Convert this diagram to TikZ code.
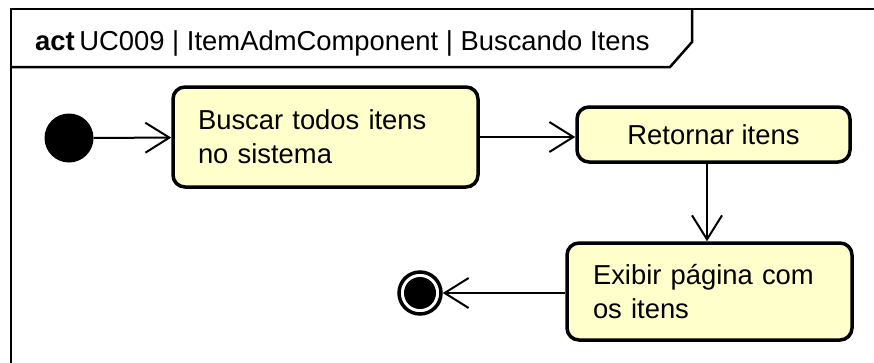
\documentclass[tikz,border=0pt]{standalone}
\usepackage{fontspec}
\setmainfont{Liberation Sans}
\usetikzlibrary{positioning, arrows.meta}
\definecolor{acaofill}{RGB}{255,255,204}

\begin{document}
\begin{tikzpicture}[x=1pt, y=-1pt,
  acao/.style={rectangle, draw, line width=3.5pt, rounded corners=12pt, fill=acaofill,
    inner sep=0pt, align=left, font=\fontsize{27.4}{34}\selectfont},
  seta/.style={line width=2pt, -{Straight Barb[length=24pt, width=30pt, line width=2pt]}}]

\useasboundingbox (0,0) rectangle (874,362);

% frame
\draw[line width=2.5pt] (11,380) -- (11,9) -- (890,9);
\draw[line width=2.5pt] (11,67) -- (670,67) -- (692,42) -- (692,9);
\node (titulo) [anchor=base west, inner sep=0pt, font=\fontsize{27.4}{34}\selectfont] at (35,50)
{\textbf{act}\,UC009 | ItemAdmComponent | Buscando Itens};

\node (inicio) [circle, fill=black, minimum size=49pt, inner sep=0pt] at (69,138) {};

\node (buscar) [acao, minimum width=305pt, minimum height=100pt, text width=255pt] at (325.5,137)
{Buscar todos itens\\no sistema};

\node (retornar) [acao, minimum width=273pt, minimum height=55pt, align=center] at (713.5,134.5)
{Retornar itens};

\node (exibir) [acao, minimum width=285pt, minimum height=97pt, text width=233pt] at (709.5,291.5)
{Exibir p\'agina com\\os itens};

\node (fim) [circle, draw, line width=3.5pt, minimum size=42pt, inner sep=0pt,
  path picture={\fill (path picture bounding box.center) circle (16pt);}] at (420,293) {};

\draw[seta] (inicio) -- (buscar);
\draw[seta] (buscar.east) -- (buscar.east -| retornar.west);
\draw[seta] (retornar.south -| 707,0) -- (exibir.north -| 707,0);
\draw[seta] (exibir.west |- fim) -- (fim);

\end{tikzpicture}
\end{document}
